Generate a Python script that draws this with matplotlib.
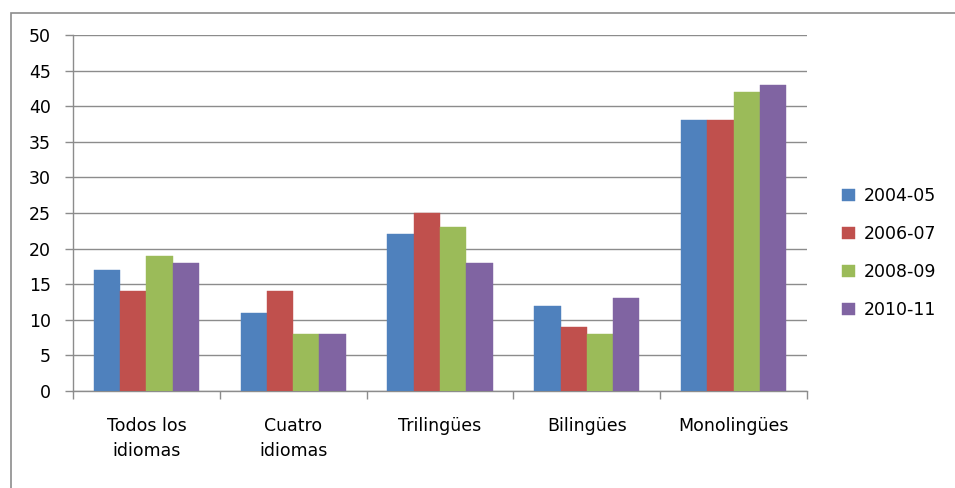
import matplotlib
matplotlib.use("Agg")
import matplotlib.pyplot as plt
from matplotlib.patches import Rectangle
import numpy as np

categories = ["Todos los\nidiomas", "Cuatro\nidiomas", "Trilingües", "Bilingües", "Monolingües"]
series_names = ["2004-05", "2006-07", "2008-09", "2010-11"]
s2004 = [17, 11, 22, 12, 38]
s2006 = [14, 14, 25, 9, 38]
s2008 = [19, 8, 23, 8, 42]
s2010 = [18, 8, 18, 13, 43]
colors = ["#4F81BD", "#C0504D", "#9BBB59", "#8064A2"]

plt.rcParams['font.family'] = ['DejaVu Sans']

fig = plt.figure(figsize=(9.55, 4.88), dpi=100)
ax = fig.add_axes([73/955, 1-391/488, (807-73)/955, (391-35)/488])

# outer chart frame
fig.patches.append(Rectangle((11/955, -0.1), 2, 1-13/488+0.1, transform=fig.transFigure,
                             fill=False, edgecolor="#8C8C8C", linewidth=1.2))

x = np.arange(len(categories))
bw = 0.179
data = [s2004, s2006, s2008, s2010]
for i, (vals, c, name) in enumerate(zip(data, colors, series_names)):
    ax.bar(x + (i - 1.5) * bw, vals, width=bw, color=c, label=name, zorder=3,
           edgecolor=c, linewidth=0.3)

ax.set_xlim(-0.5, len(categories) - 0.5)
ax.set_ylim(0, 50)
ax.set_yticks(np.arange(0, 51, 5))
ax.yaxis.grid(True, color="#8C8C8C", linewidth=1.0, zorder=0)
ax.set_axisbelow(True)

ax.set_xticks(x)
ax.set_xticklabels(categories, fontsize=12.5, linespacing=1.45)
ax.tick_params(axis='x', length=0, pad=19)
ax.set_xticks(np.arange(-0.5, len(categories)), minor=True)
ax.tick_params(axis='x', which='minor', length=6, color="#8C8C8C", width=1)
ax.tick_params(axis='y', labelsize=12.5, length=6, color="#8C8C8C", width=1, pad=10)

for side in ["top", "right"]:
    ax.spines[side].set_visible(False)
for side in ["left", "bottom"]:
    ax.spines[side].set_color("#8C8C8C")
    ax.spines[side].set_linewidth(1.0)

leg = fig.legend(loc="center left", bbox_to_anchor=(826/955, 1-253/488), frameon=False,
                 fontsize=12.5, handlelength=0.75, handleheight=0.75, labelspacing=1.15,
                 handletextpad=0.5)

fig.savefig("out.png", dpi=100)
